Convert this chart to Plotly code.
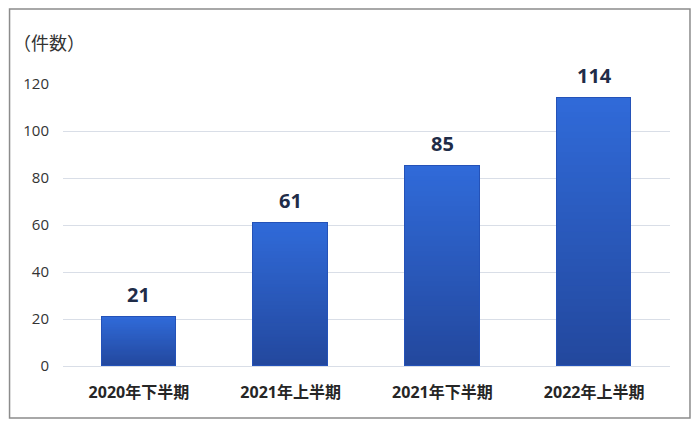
import plotly.graph_objects as go

categories = ["2020年下半期", "2021年上半期", "2021年下半期", "2022年上半期"]
counts = [21, 61, 85, 114]
y_ticks = [0, 20, 40, 60, 80, 100, 120]
y_title = "（件数）"

# gradient styling (top -> bottom)
top_rgb = (0x30, 0x6A, 0xD8)
bot_rgb = (0x23, 0x48, 0x9E)
n_seg = 40

FONT = "Open Sans, Noto Sans CJK JP, sans-serif"

fig = go.Figure()
for i in range(n_seg):
    t = i / (n_seg - 1)  # 0 bottom, 1 top
    r = round(bot_rgb[0] + (top_rgb[0] - bot_rgb[0]) * t)
    g = round(bot_rgb[1] + (top_rgb[1] - bot_rgb[1]) * t)
    b = round(bot_rgb[2] + (top_rgb[2] - bot_rgb[2]) * t)
    col = f"rgb({r},{g},{b})"
    fig.add_trace(go.Bar(
        x=categories,
        y=[v / n_seg for v in counts],
        marker=dict(color=col, line=dict(color=col, width=0.6)),
        width=0.49,
        hoverinfo="skip",
        showlegend=False,
    ))

# outline
fig.add_trace(go.Bar(
    x=categories, y=counts, width=0.49, base=0,
    marker=dict(color="rgba(0,0,0,0)", line=dict(color="#2452B8", width=1)),
    xaxis="x2", yaxis="y", hoverinfo="skip", showlegend=False,
))

for c, v in zip(categories, counts):
    fig.add_annotation(x=c, y=v, text=f"<b>{v}</b>", showarrow=False,
                       yanchor="bottom", yshift=7,
                       font=dict(family=FONT, size=20, color="#1F2C48"))

fig.add_annotation(xref="paper", yref="paper", x=-0.086, y=1.145,
                   xanchor="left", yanchor="middle", text=y_title, showarrow=False,
                   font=dict(family=FONT, size=18, color="#333333"))

# border
fig.add_shape(type="rect", xref="paper", yref="paper",
              x0=(9 - 62.5) / 607.5, x1=(690 - 62.5) / 607.5,
              y0=(366 - 418) / 282, y1=(366 - 9) / 282,
              line=dict(color="#8C8C8C", width=1.5), fillcolor="rgba(0,0,0,0)", layer="below")

fig.update_layout(
    width=700, height=428,
    margin=dict(l=62.5, r=30, t=84, b=62),
    paper_bgcolor="white", plot_bgcolor="white",
    barmode="stack", bargap=0,
    xaxis=dict(type="category", tickfont=dict(family=FONT, size=16, color="#262626", weight="bold"),
               showgrid=False, showline=False, ticks="outside", ticklen=4,
               tickcolor="rgba(0,0,0,0)", ticklabelstandoff=8),
    xaxis2=dict(type="category", overlaying="x", visible=False, matches="x"),
    yaxis=dict(range=[0, 120], tickvals=y_ticks, showgrid=True, gridcolor="#D9DEE7",
               gridwidth=1, zeroline=True, zerolinecolor="#D9DEE7", zerolinewidth=1,
               tickfont=dict(family=FONT, size=15, color="#333333"), ticks="",
               ticklabelstandoff=13, showline=False),
)

fig.write_html("out.html", config={"displayModeBar": False},
               post_script="document.body.style.margin='0px';document.body.style.padding='0px';")
